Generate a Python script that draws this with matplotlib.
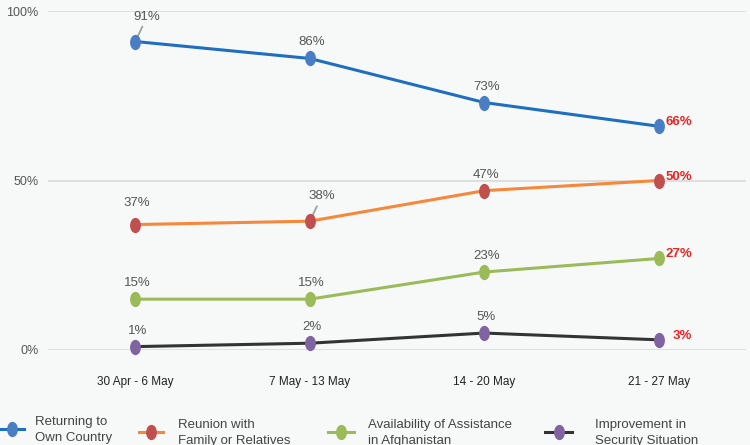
import matplotlib
matplotlib.use("Agg")
import matplotlib.pyplot as plt
from matplotlib.lines import Line2D
from matplotlib.path import Path
from matplotlib.transforms import Affine2D
from matplotlib import font_manager

fams = [f.name for f in font_manager.fontManager.ttflist]
base = 'Liberation Sans Narrow' if 'Liberation Sans Narrow' in fams else 'Liberation Sans'
plt.rcParams['font.family'] = [base, 'DejaVu Sans']

categories = ['30 Apr - 6 May', '7 May - 13 May', '14 - 20 May', '21 - 27 May']
series_names = ['Returning to\nOwn Country', 'Reunion with\nFamily or Relatives',
                'Availability of Assistance\nin Afghanistan', 'Improvement in\nSecurity Situation']
returning = [91, 86, 73, 66]
reunion = [37, 38, 47, 50]
assistance = [15, 15, 23, 27]
security = [1, 2, 5, 3]
yticks = [0, 50, 100]
ytick_labels = ['0%', '50%', '100%']

series = [returning, reunion, assistance, security]
line_colors = ['#1f6fc1', '#f5883a', '#9bbb59', '#333333']
marker_colors = ['#4a7ec2', '#c0504d', '#9bbb59', '#8064a2']

ellipse = Path.unit_circle().transformed(Affine2D().scale(0.68, 1.0))

bg = '#f7f9f9'
fig = plt.figure(figsize=(7.5, 4.45), dpi=100, facecolor=bg)
ax = fig.add_axes([48/750, 1-350/445, 698/750, 339/445], facecolor=bg)

x = [i + 0.5 for i in range(len(categories))]
for vals, lc, mc in zip(series, line_colors, marker_colors):
    ax.plot(x, vals, color=lc, lw=2.2, zorder=3, clip_on=False)
    ax.plot(x, vals, ls='none', marker=ellipse, ms=10, markerfacecolor=mc, markeredgecolor=mc,
            zorder=4, clip_on=False)

ax.set_xlim(0, 4)
ax.set_ylim(0, 100)
ax.set_yticks(yticks)
ax.set_yticklabels(ytick_labels, fontsize=9, color='#555555')
ax.set_xticks(x)
ax.set_xticklabels(categories, fontsize=8.5, color='#222222')
ax.tick_params(axis='y', length=0, pad=7)
ax.tick_params(axis='x', length=0, pad=19)
ax.grid(axis='y', color='#d9d9d9', lw=1.2)
ax.set_axisbelow(True)
for s in ax.spines.values():
    s.set_visible(False)

# data labels
leader = {(0, 0), (1, 1)}
for si, vals in enumerate(series):
    for i, v in enumerate(vals):
        txt = f'{v}%'
        if i == len(vals) - 1:
            dx = 7 if v >= 10 else 14
            ax.annotate(txt, (x[i], v), xytext=(dx, 4), textcoords='offset pixels',
                        ha='left', va='center', fontsize=9.5, color='#ee2222', fontweight='bold')
        elif (i, si) in leader:
            ax.annotate(txt, (x[i], v), xytext=(12, 25), textcoords='offset pixels',
                        ha='center', va='center', fontsize=9.5, color='#555555',
                        arrowprops=dict(arrowstyle='-', color='#a0a0a0', lw=1.3,
                                        shrinkA=1, shrinkB=1))
        else:
            dy = 22 if (si == 1 and i == 0) else 16
            ax.annotate(txt, (x[i], v), xytext=(2, dy), textcoords='offset pixels',
                        ha='center', va='center', fontsize=9.5, color='#555555')

# legend (manual placement)
W, H = 750, 445
leg_handle_x = [(0, 24), (139, 163), (328, 354), (545, 572)]
leg_text_x = [35, 178, 368, 595]
leg_y = [429, 432, 432, 432]
for (x0, x1), tx, yy, lc, mc, name in zip(leg_handle_x, leg_text_x, leg_y,
                                          line_colors, marker_colors, series_names):
    fig.add_artist(Line2D([x0 / W, x1 / W], [1 - yy / H, 1 - yy / H], color=lc, lw=2.2,
                          transform=fig.transFigure))
    fig.add_artist(Line2D([(x0 + x1) / 2 / W], [1 - yy / H], ls='none', marker=ellipse, ms=10,
                          markerfacecolor=mc, markeredgecolor=mc, transform=fig.transFigure))
    fig.text(tx / W, 1 - (yy + 1) / H, name, ha='left', va='center', fontsize=9.5,
             color='#444444', linespacing=1.45)

fig.savefig('out.png', dpi=100, facecolor=bg)
